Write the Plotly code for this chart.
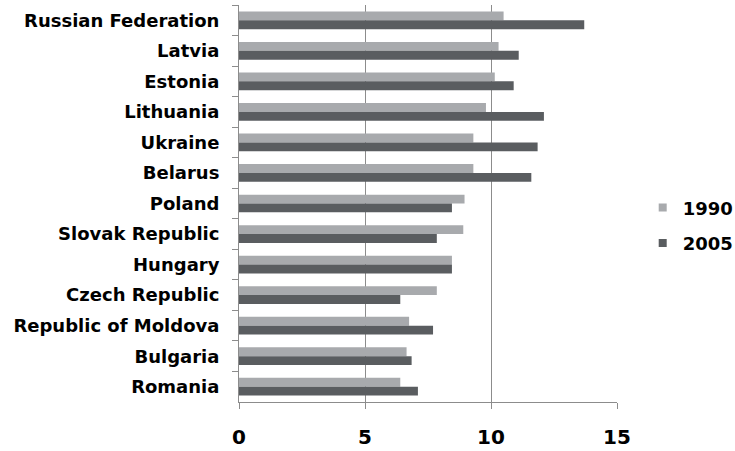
import plotly.graph_objects as go

countries = [
    "Russian Federation", "Latvia", "Estonia", "Lithuania", "Ukraine",
    "Belarus", "Poland", "Slovak Republic", "Hungary", "Czech Republic",
    "Republic of Moldova", "Bulgaria", "Romania",
]
values_1990 = [10.5, 10.3, 10.15, 9.8, 9.3, 9.3, 8.95, 8.9, 8.45, 7.85, 6.75, 6.65, 6.4]
values_2005 = [13.7, 11.1, 10.9, 12.1, 11.85, 11.6, 8.45, 7.85, 8.45, 6.4, 7.7, 6.85, 7.1]
x_ticks = [0, 5, 10, 15]

light = "#a8aaad"
dark = "#5a5d60"
grid = "#8c8c8c"
font_family = "DejaVu Sans"

fig = go.Figure()
fig.add_trace(go.Bar(y=countries, x=values_1990, orientation="h", name="1990",
                     marker=dict(color=light, line=dict(width=0)), showlegend=False))
fig.add_trace(go.Bar(y=countries, x=values_2005, orientation="h", name="2005",
                     marker=dict(color=dark, line=dict(width=0)), showlegend=False))

# legend entries with small square keys
for name, col in [("1990", light), ("2005", dark)]:
    fig.add_trace(go.Scatter(x=[None], y=[None], mode="markers", name=name,
                             legendgroup=name,
                             marker=dict(symbol="square", size=8, color=col)))

fig.update_layout(
    width=735, height=451,
    margin=dict(l=239, r=118, t=5, b=49, autoexpand=False),
    paper_bgcolor="white", plot_bgcolor="white",
    barmode="group", bargap=0.42, bargroupgap=0,
    font=dict(family=font_family, size=18, color="black"),
    legend=dict(x=1.068, y=0.445, xanchor="left", yanchor="middle",
                font=dict(family=font_family, size=18, color="black", weight="bold"),
                itemwidth=30, tracegroupgap=9, bgcolor="rgba(0,0,0,0)"),
    showlegend=True,
)
fig.update_xaxes(
    range=[0, 15], tickvals=x_ticks, ticktext=[str(v) for v in x_ticks],
    showgrid=True, gridcolor=grid, gridwidth=1, zeroline=False,
    showline=True, linecolor=grid, linewidth=1,
    ticks="outside", ticklen=6, tickcolor=grid, ticklabelstandoff=11,
    tickfont=dict(family=font_family, size=20, color="black", weight="bold"),
)
fig.update_yaxes(
    categoryorder="array", categoryarray=countries, autorange="reversed",
    showline=True, linecolor=grid, linewidth=1, showgrid=False,
    ticks="outside", ticklen=6, tickcolor=grid, tickson="boundaries",
    ticklabelstandoff=15,
    tickfont=dict(family=font_family, size=18, color="black", weight="bold"),
)

fig.write_html("out.html")
